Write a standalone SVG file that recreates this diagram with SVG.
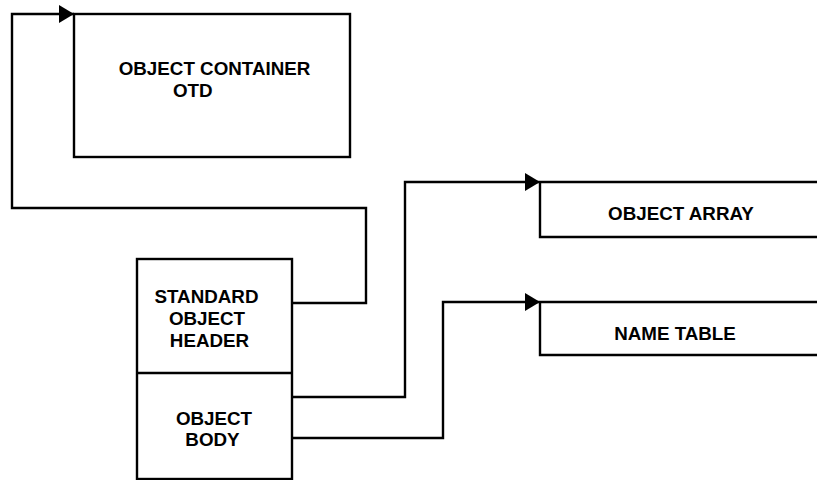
<svg xmlns="http://www.w3.org/2000/svg" width="817" height="480" viewBox="0 0 817 480">
<defs>
<style>
.box{fill:none;stroke:#000;stroke-width:2.4}
.ln{fill:none;stroke:#000;stroke-width:2.4}
.t{font-family:"Liberation Sans",Arial,sans-serif;font-weight:bold;font-size:18.8px;fill:#000;text-anchor:middle}
</style>
<marker id="ah" markerWidth="15" markerHeight="18" refX="15" refY="9" orient="auto" markerUnits="userSpaceOnUse">
<path d="M0,0 L15,9 L0,18 Z" fill="#000"/>
</marker>
</defs>
<rect width="817" height="480" fill="#fff"/>
<g id="container">
<rect class="box" x="74" y="14" width="276" height="143"/>
<text class="t" x="214.5" y="75">OBJECT CONTAINER</text>
<text class="t" x="173" y="97" style="text-anchor:start">OTD</text>
</g>
<g id="object">
<rect class="box" x="137" y="259" width="155" height="220"/>
<line class="box" x1="137" y1="373" x2="292" y2="373"/>
<text class="t" x="206.5" y="303">STANDARD</text>
<text class="t" x="207" y="325">OBJECT</text>
<text class="t" x="209.5" y="347">HEADER</text>
<text class="t" x="214" y="425">OBJECT</text>
<text class="t" x="212.5" y="446">BODY</text>
</g>
<g id="array">
<path class="box" d="M540,182 L830,182 M540,182 L540,237 L830,237"/>
<text class="t" x="681" y="220">OBJECT ARRAY</text>
</g>
<g id="nametable">
<path class="box" d="M540,302 L830,302 M540,302 L540,355 L830,355"/>
<text class="t" x="675" y="340">NAME TABLE</text>
</g>
<g id="connectors">
<path class="ln" d="M292,303 L366,303 L366,208 L12,208 L12,14 L74,14" marker-end="url(#ah)"/>
<path class="ln" d="M292,397 L405,397 L405,182 L540,182" marker-end="url(#ah)"/>
<path class="ln" d="M292,438 L443,438 L443,302 L540,302" marker-end="url(#ah)"/>
</g>
</svg>
